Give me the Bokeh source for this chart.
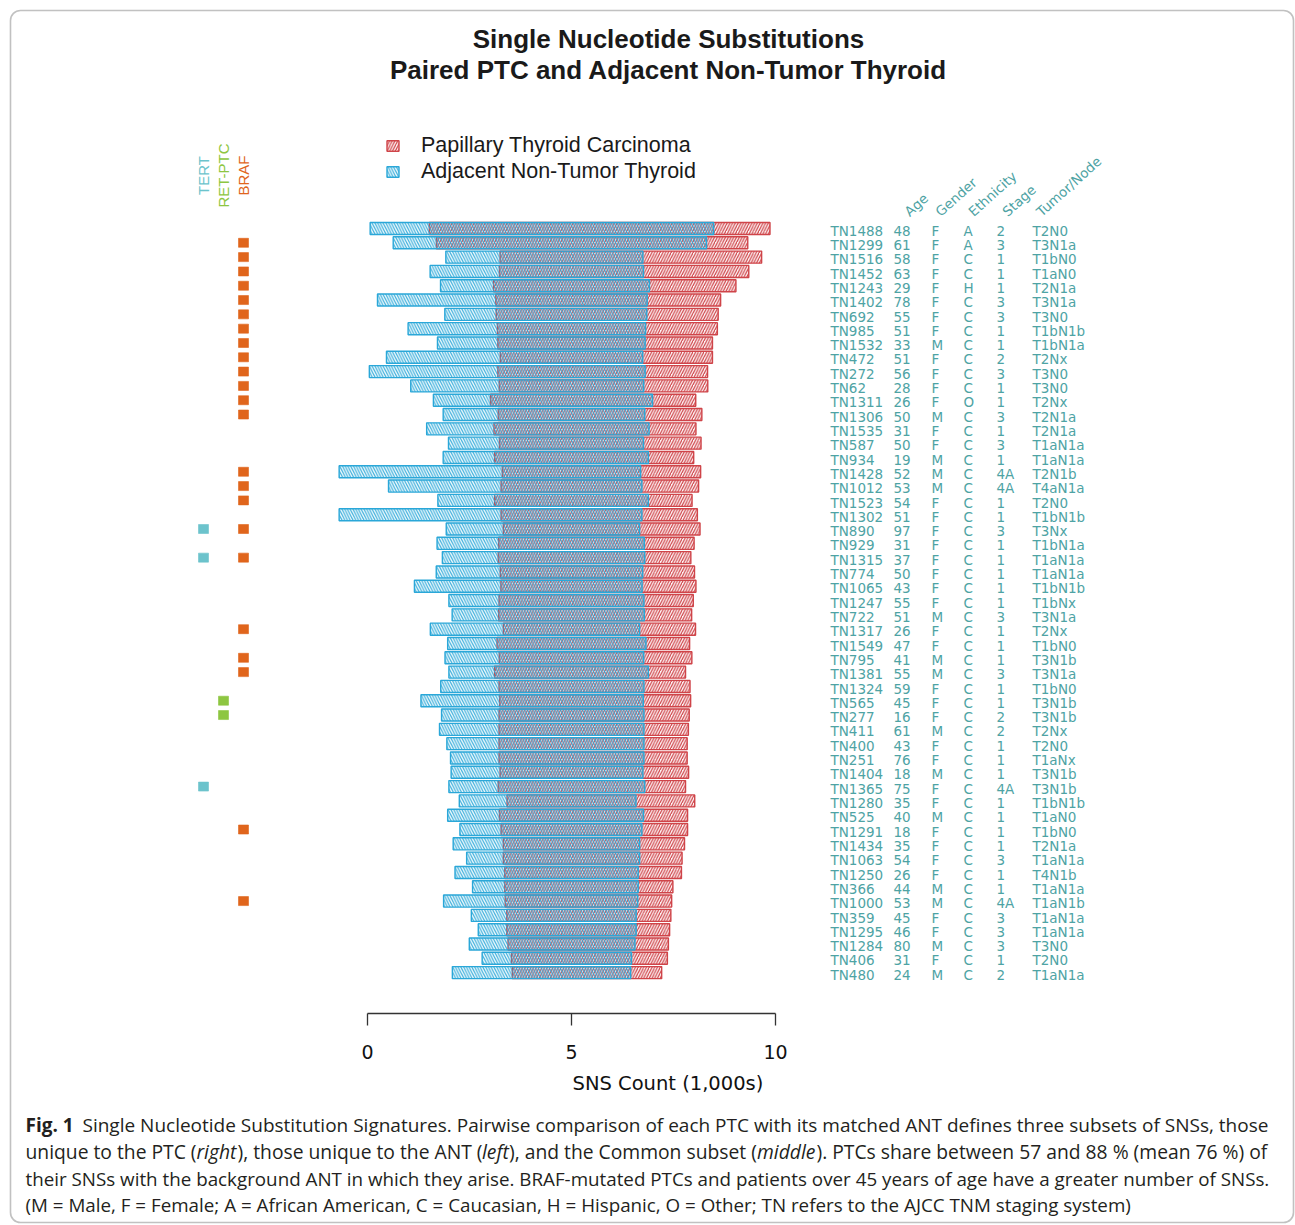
import math
from bokeh.plotting import figure
from bokeh.models import (ColumnDataSource, Range1d, LinearAxis, FixedTicker,
                          Legend, LegendItem, BoxAnnotation)
from bokeh.core.properties import value
from bokeh.embed import file_html
from bokeh.resources import INLINE

# ---------------- data ----------------
samples = ["TN1488", "TN1299", "TN1516", "TN1452", "TN1243", "TN1402", "TN692", "TN985", "TN1532", "TN472",
           "TN272", "TN62", "TN1311", "TN1306", "TN1535", "TN587", "TN934", "TN1428", "TN1012", "TN1523",
           "TN1302", "TN890", "TN929", "TN1315", "TN774", "TN1065", "TN1247", "TN722", "TN1317", "TN1549",
           "TN795", "TN1381", "TN1324", "TN565", "TN277", "TN411", "TN400", "TN251", "TN1404", "TN1365",
           "TN1280", "TN525", "TN1291", "TN1434", "TN1063", "TN1250", "TN366", "TN1000", "TN359", "TN1295",
           "TN1284", "TN406", "TN480"]
ages = [48, 61, 58, 63, 29, 78, 55, 51, 33, 51, 56, 28, 26, 50, 31, 50, 19, 52, 53, 54,
        51, 97, 31, 37, 50, 43, 55, 51, 26, 47, 41, 55, 59, 45, 16, 61, 43, 76, 18, 75,
        35, 40, 18, 35, 54, 26, 44, 53, 45, 46, 80, 31, 24]
genders = ["F", "F", "F", "F", "F", "F", "F", "F", "M", "F", "F", "F", "F", "M", "F", "F", "M", "M", "M", "F",
           "F", "F", "F", "F", "F", "F", "F", "M", "F", "F", "M", "M", "F", "F", "F", "M", "F", "F", "M", "F",
           "F", "M", "F", "F", "F", "F", "M", "M", "F", "F", "M", "F", "M"]
ethnicities = ["A", "A", "C", "C", "H", "C", "C", "C", "C", "C", "C", "C", "O", "C", "C", "C", "C", "C", "C", "C",
               "C", "C", "C", "C", "C", "C", "C", "C", "C", "C", "C", "C", "C", "C", "C", "C", "C", "C", "C", "C",
               "C", "C", "C", "C", "C", "C", "C", "C", "C", "C", "C", "C", "C"]
stages = ["2", "3", "1", "1", "1", "3", "3", "1", "1", "2", "3", "1", "1", "3", "1", "3", "1", "4A", "4A", "1",
          "1", "3", "1", "1", "1", "1", "1", "3", "1", "1", "1", "3", "1", "1", "2", "2", "1", "1", "1", "4A",
          "1", "1", "1", "1", "3", "1", "1", "4A", "3", "3", "3", "1", "2"]
tumor_node = ["T2N0", "T3N1a", "T1bN0", "T1aN0", "T2N1a", "T3N1a", "T3N0", "T1bN1b", "T1bN1a", "T2Nx",
              "T3N0", "T3N0", "T2Nx", "T2N1a", "T2N1a", "T1aN1a", "T1aN1a", "T2N1b", "T4aN1a", "T2N0",
              "T1bN1b", "T3Nx", "T1bN1a", "T1aN1a", "T1aN1a", "T1bN1b", "T1bNx", "T3N1a", "T2Nx", "T1bN0",
              "T3N1b", "T3N1a", "T1bN0", "T3N1b", "T3N1b", "T2Nx", "T2N0", "T1aNx", "T3N1b", "T3N1b",
              "T1bN1b", "T1aN0", "T1bN0", "T2N1a", "T1aN1a", "T4N1b", "T1aN1a", "T1aN1b", "T1aN1a", "T1aN1a",
              "T3N0", "T2N0", "T1aN1a"]

# SNS counts (1,000s)
ant_unique = [1.45, 1.06, 1.33, 1.70, 1.30, 2.90, 1.26, 2.19, 1.48, 2.79,
              3.15, 2.17, 1.40, 1.35, 1.65, 1.25, 1.26, 4.00, 2.76, 1.39,
              3.97, 1.40, 1.51, 1.37, 1.57, 2.12, 1.23, 1.14, 1.79, 1.21,
              1.33, 1.12, 1.43, 1.93, 1.41, 1.46, 1.28, 1.19, 1.20, 1.21,
              1.17, 1.27, 1.01, 1.23, 0.90, 1.22, 0.79, 1.51, 0.87, 0.70,
              0.95, 0.72, 1.47]
common = [6.97, 6.62, 3.50, 3.53, 3.82, 3.71, 3.69, 3.63, 3.61, 3.49,
          3.61, 3.54, 3.97, 3.59, 3.80, 3.53, 3.77, 3.39, 3.45, 3.77,
          3.45, 3.34, 3.57, 3.59, 3.49, 3.46, 3.55, 3.57, 3.34, 3.65,
          3.54, 3.77, 3.55, 3.52, 3.55, 3.55, 3.55, 3.55, 3.50, 3.59,
          3.16, 3.53, 3.45, 3.34, 3.34, 3.27, 3.27, 3.25, 3.17, 3.17,
          3.11, 2.94, 2.90]
ptc_unique = [1.38, 1.01, 2.91, 2.58, 2.12, 1.80, 1.75, 1.76, 1.65, 1.71,
              1.53, 1.57, 1.06, 1.40, 1.15, 1.41, 1.11, 1.47, 1.39, 1.07,
              1.36, 1.48, 1.22, 1.13, 1.27, 1.32, 1.21, 1.16, 1.37, 1.07,
              1.18, 0.91, 1.13, 1.16, 1.11, 1.09, 1.06, 1.06, 1.12, 1.00,
              1.44, 1.08, 1.12, 1.10, 1.04, 1.06, 0.85, 0.83, 0.85, 0.82,
              0.82, 0.88, 0.76]

braf_mutated = ["TN1299", "TN1516", "TN1452", "TN1243", "TN1402", "TN692", "TN985", "TN1532", "TN472",
                "TN272", "TN62", "TN1311", "TN1306", "TN1428", "TN1012", "TN1523", "TN890", "TN1315",
                "TN1317", "TN795", "TN1381", "TN1291", "TN1000"]
tert_mutated = ["TN890", "TN1315", "TN1365"]
ret_ptc_mutated = ["TN565", "TN277"]

gene_names = ["TERT", "RET-PTC", "BRAF"]
col_headers = ["Age", "Gender", "Ethnicity", "Stage", "Tumor/Node"]
x_ticks = [0, 5, 10]

# ---------------- layout helpers (reference pixel -> data) ----------------
W, H = 1295, 1225
OX, OY = 0, 0            # page position of the figure
PX_PER_UNIT = 40.8
PX_PER_ROW = 14.31
X0_PX, ROW0_PX = 367, 228


def X(px):
    return (px - X0_PX) / PX_PER_UNIT


def Y(py):
    return (py - ROW0_PX) / PX_PER_ROW


CENTER = 5.0
rows = list(range(len(samples)))
c_left = [CENTER - c / 2 for c in common]
c_right = [CENTER + c / 2 for c in common]
ant_left = [cl - a for cl, a in zip(c_left, ant_unique)]
ptc_right = [cr + q for cr, q in zip(c_right, ptc_unique)]

src = ColumnDataSource(dict(row=rows, ant_left=ant_left, ant_right=c_right,
                            ptc_left=c_left, ptc_right=ptc_right))

p = figure(width=W, height=H, output_backend="svg", toolbar_location=None,
           x_range=Range1d(X(OX), X(OX + W)), y_range=Range1d(Y(OY + H), Y(OY)),
           x_axis_type=None, y_axis_type=None, min_border=0,
           outline_line_color=None, background_fill_color="white", border_fill_color="white")

# frame border of the figure panel
p.add_layout(BoxAnnotation(left=X(10), right=X(1293), top=Y(10), bottom=Y(1222),
                           fill_alpha=0, line_color="#333333", line_width=1.6,
                           border_radius=10, level="underlay"))

RED = "#cf4449"
BLUE = "#2aa7d8"

r_ptc = p.hbar(y="row", left="ptc_left", right="ptc_right", height=0.84, source=src,
               fill_color=RED, fill_alpha=0.05, line_color=RED, line_width=1.4,
               hatch_pattern="/", hatch_color=RED, hatch_scale=5.5, hatch_weight=1.2)
r_ant = p.hbar(y="row", left="ant_left", right="ant_right", height=0.84, source=src,
               fill_color=BLUE, fill_alpha=0.06, line_color=BLUE, line_width=1.4,
               hatch_pattern="\\", hatch_color=BLUE, hatch_alpha=0.9, hatch_scale=5.5, hatch_weight=1.2)

legend = Legend(items=[LegendItem(label="Papillary Thyroid Carcinoma", renderers=[r_ptc]),
                       LegendItem(label="Adjacent Non-Tumor Thyroid", renderers=[r_ant])],
                location=(385, H - 132.5 - 52), padding=0, margin=0, spacing=0,
                glyph_width=15, glyph_height=13, label_height=26, label_standoff=21,
                label_text_font="Liberation Sans", label_text_font_size="21.5px",
                label_text_color="#1a1a1a", border_line_color=None, background_fill_alpha=0)
p.add_layout(legend)

# x axis
axis = LinearAxis(fixed_location=Y(1013), bounds=(0, 10), ticker=FixedTicker(ticks=x_ticks),
                  major_tick_out=12, major_tick_in=0, minor_tick_out=0, minor_tick_in=0,
                  axis_line_color="#333333", axis_line_width=1.3,
                  major_tick_line_color="#333333", major_tick_line_width=1.3,
                  major_label_text_font="DejaVu Sans", major_label_text_font_size="19px",
                  major_label_text_color="#111111", major_label_standoff=19)
p.add_layout(axis, "below")

p.text(x=[X(572)], y=[Y(1083)], text=["SNS Count (1,000s)"], text_font=value("DejaVu Sans"),
       text_font_size="19.5px", text_color="#111111", text_align="left", text_baseline="middle")

# title
p.text(x=[X(668), X(668)], y=[Y(38), Y(69)],
       text=["Single Nucleotide Substitutions", "Paired PTC and Adjacent Non-Tumor Thyroid"],
       text_font=value("Liberation Sans"), text_font_style="bold", text_font_size="26px",
       text_color="#1a1a1a", text_align="center", text_baseline="middle")

# mutation markers
gene_colors = ["#6cc3cc", "#8dc641", "#e0651c"]
gene_x = [X(203), X(223), X(243)]
for muts, gx, gc in zip([tert_mutated, ret_ptc_mutated, braf_mutated], gene_x, gene_colors):
    yy = [samples.index(s) for s in muts]
    p.rect(x=[gx] * len(yy), y=yy, width=10, height=9, width_units="screen", height_units="screen",
           fill_color=gc, line_color=gc, line_alpha=0.6)
p.text(x=gene_x, y=[Y(175)] * 3, text=gene_names, angle=math.pi / 2,
       text_color=gene_colors, text_font=value("Liberation Sans"), text_font_size="15px",
       text_align="center", text_baseline="middle")

# patient table
TEAL = "#4ea3a4"
label_y = [r + 0.15 for r in rows]
tbl_cols = [(samples, 830), ([str(a) for a in ages], 893), (genders, 931),
            (ethnicities, 963), (stages, 996), (tumor_node, 1032)]
for vals, px in tbl_cols:
    p.text(x=[X(px)] * len(vals), y=label_y, text=vals, text_font=value("DejaVu Sans"),
           text_font_size="13.5px", text_color=TEAL, text_align="left", text_baseline="middle")

p.text(x=[X(906), X(937), X(970), X(1004), X(1038)], y=[Y(213)] * 5, text=col_headers,
       angle=math.radians(42), text_font=value("DejaVu Sans"), text_font_size="13.5px",
       text_color=TEAL, text_align="left", text_baseline="alphabetic")

# caption
CAP_FONT = value("Open Sans")
CAP_COLOR = "#231f20"
base = [Y(1124), Y(1151), Y(1178), Y(1204.5)]


def cap(xs, ys, texts, size, style="normal"):
    p.text(x=[X(v) for v in xs], y=ys, text=texts, text_font=CAP_FONT, text_font_style=style,
           text_font_size=size, text_color=CAP_COLOR, text_align="left", text_baseline="alphabetic")


# line 1
cap([25], [base[0]], ["Fig. 1"], "19px", "bold")
cap([82], [base[0]],
    ["Single Nucleotide Substitution Signatures. Pairwise comparison of each PTC with its matched ANT defines three subsets of SNSs, those"],
    "19px")
# line 2 (upright + italic pieces)
cap([25, 237, 508.5, 816], [base[1]] * 4,
    ["unique to the PTC (", "), those unique to the ANT (", "), and the Common subset (",
     "). PTCs share between 57 and 88 % (mean 76 %) of"], "19.3px")
cap([196, 481.5, 756.5], [base[1]] * 3, ["right", "left", "middle"], "19.3px", "italic")
# lines 3 and 4
cap([25, 25], [base[2], base[3]],
    ["their SNSs with the background ANT in which they arise. BRAF-mutated PTCs and patients over 45 years of age have a greater number of SNSs.",
     "(M = Male, F = Female; A = African American, C = Caucasian, H = Hispanic, O = Other; TN refers to the AJCC TNM staging system)"],
    "18.8px")

open("out.html", "w").write(file_html(p, INLINE))
